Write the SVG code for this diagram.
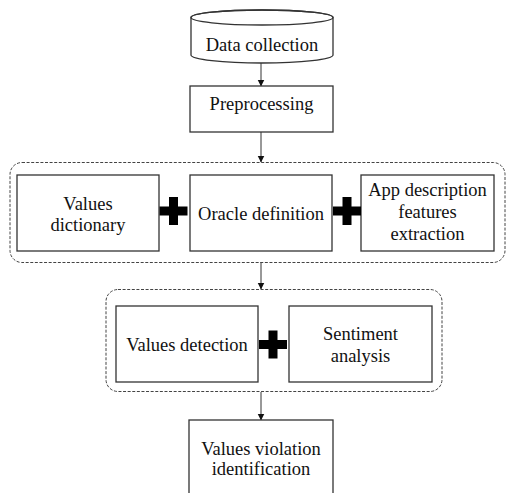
<svg xmlns="http://www.w3.org/2000/svg" width="507" height="493" viewBox="0 0 507 493">
  <style>
    .box { fill: #ffffff; stroke: #333333; stroke-width: 1.3; }
    .grp { fill: none; stroke: #444444; stroke-width: 1; stroke-dasharray: 3 1.6; }
    .lbl { font-family: 'Liberation Serif', Tinos, 'DejaVu Serif', 'Noto Serif', serif; font-size: 18.5px; fill: #111111; text-anchor: middle; }
    .conn { stroke: #333333; stroke-width: 1; fill: none; }
    .plus { fill: #000000; }
  </style>
  <defs>
    <marker id="arrow" markerWidth="7" markerHeight="8" refX="6.5" refY="3.5" orient="auto" markerUnits="userSpaceOnUse">
      <path d="M0,0 L7,3.5 L0,7 Z" fill="#111111"/>
    </marker>
    <path id="plusShape" d="M-4.5,-14 H4.5 V-4.5 H14 V4.5 H4.5 V14 H-4.5 V4.5 H-14 V-4.5 H-4.5 Z"/>
  </defs>
  <rect width="507" height="493" fill="#ffffff"/>

  <!-- connectors -->
  <g id="connectors">
    <line class="conn" x1="261" y1="63" x2="261" y2="86" marker-end="url(#arrow)"/>
    <line class="conn" x1="261" y1="132" x2="261" y2="162" marker-end="url(#arrow)"/>
    <line class="conn" x1="261" y1="262" x2="261" y2="289" marker-end="url(#arrow)"/>
    <line class="conn" x1="261" y1="392" x2="261" y2="420" marker-end="url(#arrow)"/>
  </g>

  <!-- stage groups -->
  <g id="group-resources">
    <rect class="grp" x="10" y="162.5" width="495" height="100" rx="12" ry="12"/>
  </g>
  <g id="group-analysis">
    <rect class="grp" x="106" y="289.5" width="336" height="102" rx="12" ry="12"/>
  </g>

  <g id="data-collection">
    <path class="box" d="M191,17.5 V55 A71,8 0 0 0 333,55 V17.5 A71,7.5 0 0 0 191,17.5 Z"/>
    <ellipse cx="262" cy="17.5" rx="71" ry="7.5" fill="none" stroke="#333333" stroke-width="1.3"/>
    <text class="lbl" x="262" y="51" font-family="Liberation Serif, serif">Data collection</text>
  </g>

  <g id="preprocessing">
    <rect class="box" x="190" y="86" width="143" height="46"/>
    <text class="lbl" x="261.5" y="110">Preprocessing</text>
  </g>

  <g id="values-dictionary">
    <rect class="box" x="17" y="175" width="142" height="76"/>
    <text class="lbl" x="88" y="210">Values</text>
    <text class="lbl" x="88" y="231">dictionary</text>
  </g>

  <g id="oracle-definition">
    <rect class="box" x="190" y="175" width="142" height="76"/>
    <text class="lbl" x="261" y="220">Oracle definition</text>
  </g>

  <g id="app-description">
    <rect class="box" x="361" y="175" width="133" height="76"/>
    <text class="lbl" x="427.5" y="196">App description</text>
    <text class="lbl" x="427.5" y="218">features</text>
    <text class="lbl" x="427.5" y="240">extraction</text>
  </g>

  <g id="values-detection">
    <rect class="box" x="116" y="306" width="142" height="76"/>
    <text class="lbl" x="187" y="351">Values detection</text>
  </g>

  <g id="sentiment-analysis">
    <rect class="box" x="289" y="306" width="143" height="76"/>
    <text class="lbl" x="360.5" y="340">Sentiment</text>
    <text class="lbl" x="360.5" y="362">analysis</text>
  </g>

  <g id="values-violation">
    <rect class="box" x="189" y="420" width="144" height="90"/>
    <text class="lbl" x="261" y="455">Values violation</text>
    <text class="lbl" x="261" y="475">identification</text>
  </g>

  <!-- combination marks -->
  <g id="plus-signs">
    <use class="plus" href="#plusShape" x="173.5" y="211"/>
    <use class="plus" href="#plusShape" x="347" y="211"/>
    <use class="plus" href="#plusShape" x="273" y="344.5"/>
  </g>
</svg>
